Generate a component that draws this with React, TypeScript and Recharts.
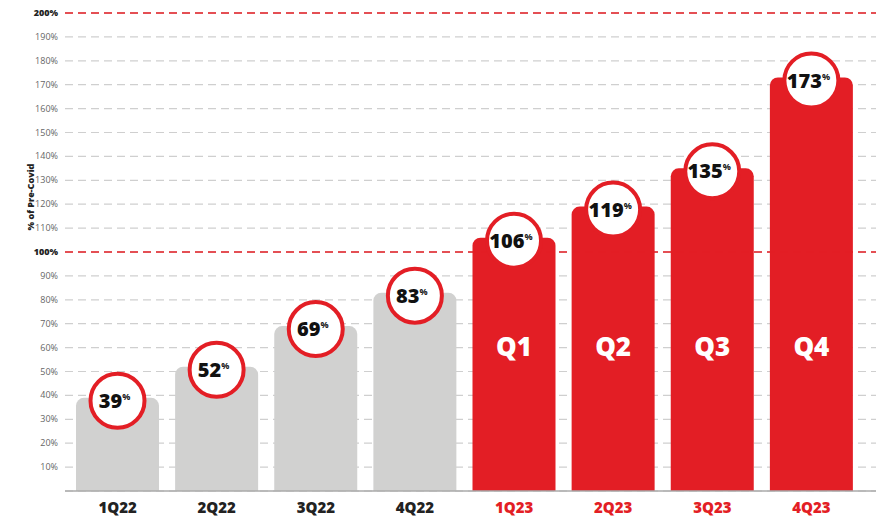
import React from 'react';
import { BarChart, Bar, XAxis, YAxis, CartesianGrid, ReferenceLine, LabelList, Cell } from 'recharts';

const categories = ['1Q22', '2Q22', '3Q22', '4Q22', '1Q23', '2Q23', '3Q23', '4Q23'];
const values = [39, 52, 69, 83, 106, 119, 135, 173];
const quarterLabels = ['', '', '', '', 'Q1', 'Q2', 'Q3', 'Q4'];
const yTicks = [10, 20, 30, 40, 50, 60, 70, 80, 90, 100, 110, 120, 130, 140, 150, 160, 170, 180, 190, 200];
const highlightTicks = [100, 200];
const yLabel = '% of Pre-Covid';

const RED = '#e31e25';
const GRAY = '#d1d1d0';
const FONT = '"Open Sans", sans-serif';

const data = categories.map((c, i) => ({ name: c, value: values[i], q: quarterLabels[i], idx: i }));

const YTick = (props: any) => {
  const { y, payload } = props;
  const bold = highlightTicks.includes(payload.value);
  return (
    <text x={58} y={y} dy={3} textAnchor="end" fontFamily={FONT} fontSize={9}
      fontWeight={bold ? 800 : 400} fill={bold ? '#222' : '#666'}>
      {payload.value}%
    </text>
  );
};

const XTick = (props: any) => {
  const { x, y, payload, index } = props;
  const red = index >= 4;
  return (
    <text x={x} y={y + 14} textAnchor="middle" fontFamily={FONT} fontSize={15}
      fontWeight={800} fill={red ? RED : '#222'}>
      {payload.value}
    </text>
  );
};

const Bubble = (props: any) => {
  const { x, y, width, value } = props;
  const cx = x + width / 2;
  const cy = y + 3;
  return (
    <g>
      <circle cx={cx} cy={cy} r={27} fill="#fff" stroke={RED} strokeWidth={4} />
      <text x={cx - 3} y={cy + 7} textAnchor="middle" fontFamily={FONT} fontWeight={800} fontSize={20} fill="#111">
        {value}
        <tspan fontSize={9} dy={-8} fontWeight={700}>%</tspan>
      </text>
    </g>
  );
};

const QLabel = (props: any) => {
  const { x, y, width, height, value } = props;
  if (!value) return null;
  return (
    <text x={x + width / 2} y={y + height - 144 + 9} textAnchor="middle" fontFamily={FONT}
      fontWeight={800} fontSize={26} fill="#fff">
      {value}
    </text>
  );
};

export default function App() {
  return (
    <div style={{ position: 'absolute', left: 0, top: 0, width: 876, height: 518, background: '#fff' }}>
      <BarChart width={876} height={518} data={data} margin={{ top: 13, right: 0, bottom: 0, left: 0 }} barCategoryGap={8}>
        <CartesianGrid vertical={false} stroke="#cfcfcf" strokeDasharray="8 5" strokeWidth={1.2} />
        <XAxis dataKey="name" axisLine={{ stroke: '#aaa', strokeWidth: 1.5 }} tickLine={false} height={27}
          padding={{ left: 3, right: 15 }} tick={<XTick />} interval={0} />
        <YAxis domain={[0, 200]} ticks={yTicks} width={65} axisLine={false} tickLine={false} tick={<YTick />} interval={0} />
        {highlightTicks.map((v) => (
          <ReferenceLine key={v} y={v} stroke={RED} strokeDasharray="8 5" strokeWidth={1.6} />
        ))}
        <Bar dataKey="value" radius={[8, 8, 0, 0]} isAnimationActive={false}>
          {data.map((d) => (
            <Cell key={d.name} fill={d.idx >= 4 ? RED : GRAY} />
          ))}
          <LabelList dataKey="q" content={<QLabel />} />
          <LabelList dataKey="value" content={<Bubble />} />
        </Bar>
        <text x={34} y={197} transform="rotate(-90 34 197)" textAnchor="middle" fontFamily={FONT}
          fontWeight={800} fontSize={9} fill="#222">
          {yLabel}
        </text>
      </BarChart>
    </div>
  );
}
